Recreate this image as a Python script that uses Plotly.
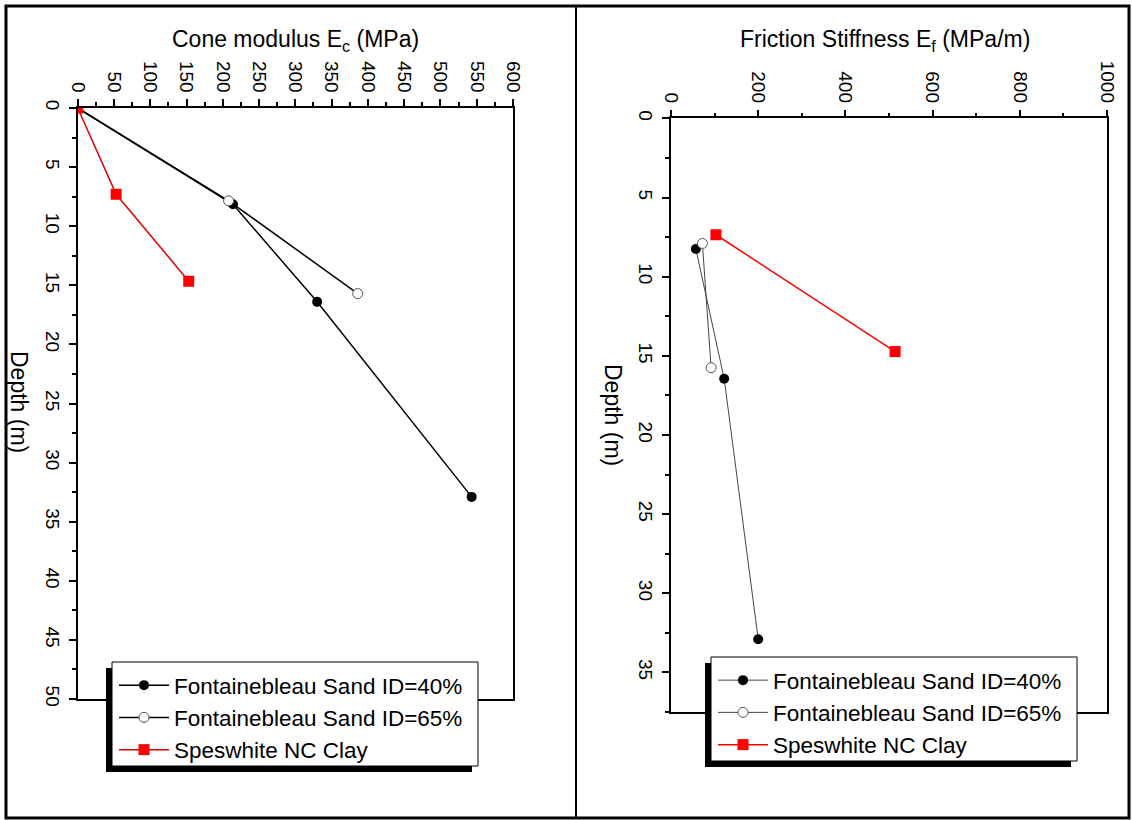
import plotly.graph_objects as go

# ---- data ----
cone_depth_id40 = [0, 8.15, 16.4, 32.9]
cone_ec_id40 = [0, 214, 330, 543]
cone_depth_id65 = [0, 7.85, 15.7]
cone_ec_id65 = [0, 208, 386]
cone_depth_clay = [0, 7.3, 14.65]
cone_ec_clay = [0, 53, 153]

fric_depth_id40 = [8.25, 16.45, 32.9]
fric_ef_id40 = [57, 122, 200]
fric_depth_id65 = [7.9, 15.75]
fric_ef_id65 = [72, 92]
fric_depth_clay = [7.35, 14.73]
fric_ef_clay = [103, 514]

names = ["Fontainebleau Sand ID=40%", "Fontainebleau Sand ID=65%", "Speswhite NC Clay"]

W, H = 1132, 820
FONT = "Liberation Sans, Arial, sans-serif"

def px(x):
    return x / W

def py(y):
    return 1 - y / H

fig = go.Figure()

# Left panel
fig.add_trace(go.Scatter(x=cone_ec_id40, y=cone_depth_id40, name=names[0], mode="lines+markers",
                         line=dict(color="black", width=1.5),
                         marker=dict(symbol="circle", size=10, color="black"),
                         xaxis="x", yaxis="y", legend="legend"))
fig.add_trace(go.Scatter(x=cone_ec_id65, y=cone_depth_id65, name=names[1], mode="lines+markers",
                         line=dict(color="black", width=1.5),
                         marker=dict(symbol="circle", size=10, color="white", line=dict(color="#555", width=1)),
                         xaxis="x", yaxis="y", legend="legend"))
fig.add_trace(go.Scatter(x=cone_ec_clay, y=cone_depth_clay, name=names[2], mode="lines+markers",
                         line=dict(color="#e00000", width=1.5),
                         marker=dict(symbol="square", size=11, color="#ff0000"),
                         xaxis="x", yaxis="y", legend="legend"))

# Right panel
fig.add_trace(go.Scatter(x=fric_ef_id40, y=fric_depth_id40, name=names[0], mode="lines+markers",
                         line=dict(color="#444", width=1),
                         marker=dict(symbol="circle", size=10, color="black"),
                         xaxis="x2", yaxis="y2", legend="legend2"))
fig.add_trace(go.Scatter(x=fric_ef_id65, y=fric_depth_id65, name=names[1], mode="lines+markers",
                         line=dict(color="#444", width=1),
                         marker=dict(symbol="circle", size=10, color="white", line=dict(color="#555", width=1)),
                         xaxis="x2", yaxis="y2", legend="legend2"))
fig.add_trace(go.Scatter(x=fric_ef_clay, y=fric_depth_clay, name=names[2], mode="lines+markers",
                         line=dict(color="#ff0000", width=1.5),
                         marker=dict(symbol="square", size=11, color="#ff0000"),
                         xaxis="x2", yaxis="y2", legend="legend2"))

tickfont = dict(family=FONT, size=19, color="black")
common_x = dict(side="top", showgrid=False, zeroline=False, showline=True, linecolor="black", linewidth=1.5,
                mirror=True, ticks="outside", ticklen=7, tickwidth=1.5, tickcolor="black",
                tickangle=90, tickfont=tickfont, automargin=False)
common_y = dict(showgrid=False, zeroline=False, showline=True, linecolor="black", linewidth=1.5,
                mirror=True, ticks="outside", ticklen=7, tickwidth=1.5, tickcolor="black",
                tickangle=90, tickfont=tickfont, dtick=5, tick0=0, automargin=False,
                minor=dict(ticks="outside", ticklen=4, tickwidth=1.5, tickcolor="black", dtick=2.5, tick0=0))

L = dict(x0=77.7, x1=513, y0=108, y1=699)
R = dict(x0=671, x1=1107, y0=118.4, y1=712)

legfont = dict(family=FONT, size=22.5, color="black")
fig.update_layout(
    width=W, height=H, autosize=False,
    margin=dict(l=0, r=0, t=0, b=0, pad=0, autoexpand=False),
    paper_bgcolor="white", plot_bgcolor="white",
    font=dict(family=FONT, color="black"),
    xaxis=dict(**common_x, domain=[px(L["x0"]), px(L["x1"])], range=[0, 600], dtick=50, tick0=0,
               minor=dict(ticks="outside", ticklen=4, tickwidth=1.5, tickcolor="black", dtick=25, tick0=0),
               anchor="y"),
    yaxis=dict(**common_y, domain=[py(L["y1"]), py(L["y0"])], range=[50, 0], anchor="x"),
    xaxis2=dict(**common_x, domain=[px(R["x0"]), px(R["x1"])], range=[0, 1000], dtick=200, tick0=0,
                minor=dict(ticks="outside", ticklen=4, tickwidth=1.5, tickcolor="black", dtick=100, tick0=0),
                anchor="y2"),
    yaxis2=dict(**common_y, domain=[py(R["y1"]), py(R["y0"])], range=[37.5, 0], anchor="x2"),
    legend=dict(x=px(114), y=py(664), xanchor="left", yanchor="top", bgcolor="rgba(0,0,0,0)",
                borderwidth=0, font=legfont, itemwidth=50, tracegroupgap=0),
    legend2=dict(x=px(713), y=py(659), xanchor="left", yanchor="top", bgcolor="rgba(0,0,0,0)",
                 borderwidth=0, font=legfont, itemwidth=50, tracegroupgap=0),
    showlegend=True,
)

# legend shadows and boxes (drawn under the legend entries)
fig.add_shape(type="rect", xref="paper", yref="paper", x0=px(106), x1=px(472), y0=py(772), y1=py(668),
              fillcolor="black", line=dict(width=0), layer="above")
fig.add_shape(type="rect", xref="paper", yref="paper", x0=px(112), x1=px(478), y0=py(766), y1=py(662),
              fillcolor="white", line=dict(color="black", width=1), layer="above")
fig.add_shape(type="rect", xref="paper", yref="paper", x0=px(705), x1=px(1071), y0=py(767), y1=py(663),
              fillcolor="black", line=dict(width=0), layer="above")
fig.add_shape(type="rect", xref="paper", yref="paper", x0=px(711), x1=px(1077), y0=py(761), y1=py(657),
              fillcolor="white", line=dict(color="black", width=1), layer="above")

# outer frame and divider
fig.add_shape(type="rect", xref="paper", yref="paper", x0=px(6), x1=px(1129), y0=py(818), y1=py(6),
              line=dict(color="black", width=3), fillcolor="rgba(0,0,0,0)")
fig.add_shape(type="line", xref="paper", yref="paper", x0=px(576), x1=px(576), y0=py(818), y1=py(6),
              line=dict(color="black", width=2))

# axis titles
tfont = dict(family=FONT, size=23, color="black")
fig.add_annotation(text="Cone modulus E<sub>c</sub> (MPa)", xref="paper", yref="paper",
                   x=px(295), y=py(40), xanchor="center", yanchor="middle", showarrow=False, font=tfont)
fig.add_annotation(text="Friction Stiffness E<sub>f</sub> (MPa/m)", xref="paper", yref="paper",
                   x=px(885), y=py(40), xanchor="center", yanchor="middle", showarrow=False, font=tfont)
fig.add_annotation(text="Depth (m)", xref="paper", yref="paper", textangle=90,
                   x=px(19), y=py(402), xanchor="center", yanchor="middle", showarrow=False, font=tfont)
fig.add_annotation(text="Depth (m)", xref="paper", yref="paper", textangle=90,
                   x=px(613), y=py(415), xanchor="center", yanchor="middle", showarrow=False, font=tfont)

fig.write_html("out.html", config={"displayModeBar": False},
               post_script="document.body.style.margin='0';document.body.style.overflow='hidden';")
